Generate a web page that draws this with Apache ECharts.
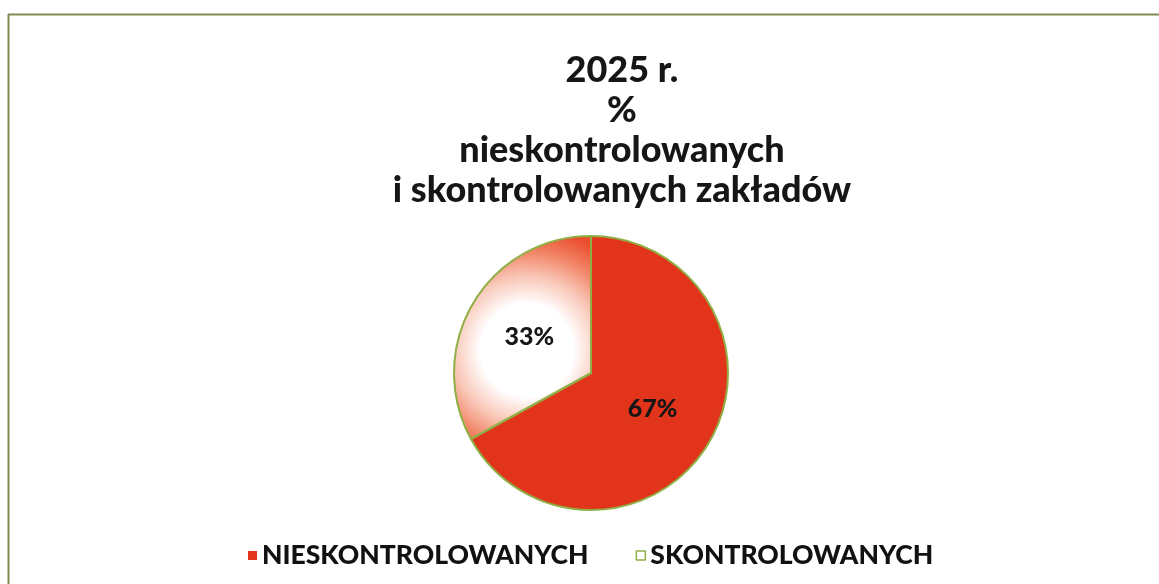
<!DOCTYPE html>
<html>
<head>
<meta charset="utf-8">
<script src="https://cdn.jsdelivr.net/npm/echarts@6/dist/echarts.min.js"></script>
<style>
html,body{margin:0;padding:0;background:#fff;}
#chart{width:1159px;height:584px;}
</style>
</head>
<body>
<div id="chart"></div>
<script>
const titleLines = ['2025 r.', '%', 'nieskontrolowanych', 'i skontrolowanych zakładów'];
const categories = ['NIESKONTROLOWANYCH', 'SKONTROLOWANYCH'];
const values = [67, 33];

const FONT = 'Lato, "Open Sans", sans-serif';
const RED = '#E2341B';
const GREEN = '#8FAF45';

const chart = echarts.init(document.getElementById('chart'), null, {renderer: 'canvas'});
const option = {
  backgroundColor: '#ffffff',
  animation: false,
  title: {
    text: titleLines.join('\n'),
    left: 617,
    textAlign: 'center',
    top: 45,
    textStyle: {
      fontFamily: FONT,
      fontSize: 36,
      fontWeight: 900,
      color: '#161616',
      lineHeight: 40
    }
  },
  legend: {
    left: 243,
    top: 537,
    itemWidth: 9,
    itemHeight: 9,
    itemGap: 47,
    icon: 'rect',
    textStyle: {
      fontFamily: FONT,
      fontSize: 26.5,
      fontWeight: 900,
      color: '#111'
    },
    data: [
      {name: categories[0], itemStyle: {color: RED, borderWidth: 0}},
      {name: categories[1], itemStyle: {color: '#ffffff', borderColor: GREEN, borderWidth: 1.5}}
    ]
  },
  graphic: [
    {type: 'line', shape: {x1: 8, y1: 14.5, x2: 1159, y2: 14.5}, style: {stroke: '#7E8C52', lineWidth: 2}},
    {type: 'line', shape: {x1: 8.5, y1: 14, x2: 8.5, y2: 584}, style: {stroke: '#7E8C52', lineWidth: 2}}
  ],
  series: [{
    type: 'pie',
    center: [591, 373],
    radius: 137,
    startAngle: 90,
    clockwise: true,
    label: {
      show: true,
      position: 'inner',
      formatter: '{d}%',
      fontFamily: FONT,
      fontSize: 25,
      fontWeight: 900,
      color: '#161616'
    },
    labelLine: {show: false},
    itemStyle: {borderColor: GREEN, borderWidth: 2},
    emphasis: {disabled: true},
    data: [
      {name: categories[0], value: values[0], itemStyle: {color: RED}},
      {name: categories[1], value: values[1], itemStyle: {
        color: {
          type: 'radial', x: 527, y: 350, r: 122, global: true,
          colorStops: [
            {offset: 0, color: '#ffffff'},
            {offset: 0.38, color: '#ffffff'},
            {offset: 0.6, color: '#F9C8B8'},
            {offset: 0.8, color: '#F28668'},
            {offset: 1, color: '#EA4E2E'}
          ]
        }
      }}
    ]
  }]
};
chart.setOption(option);
</script>
</body>
</html>
